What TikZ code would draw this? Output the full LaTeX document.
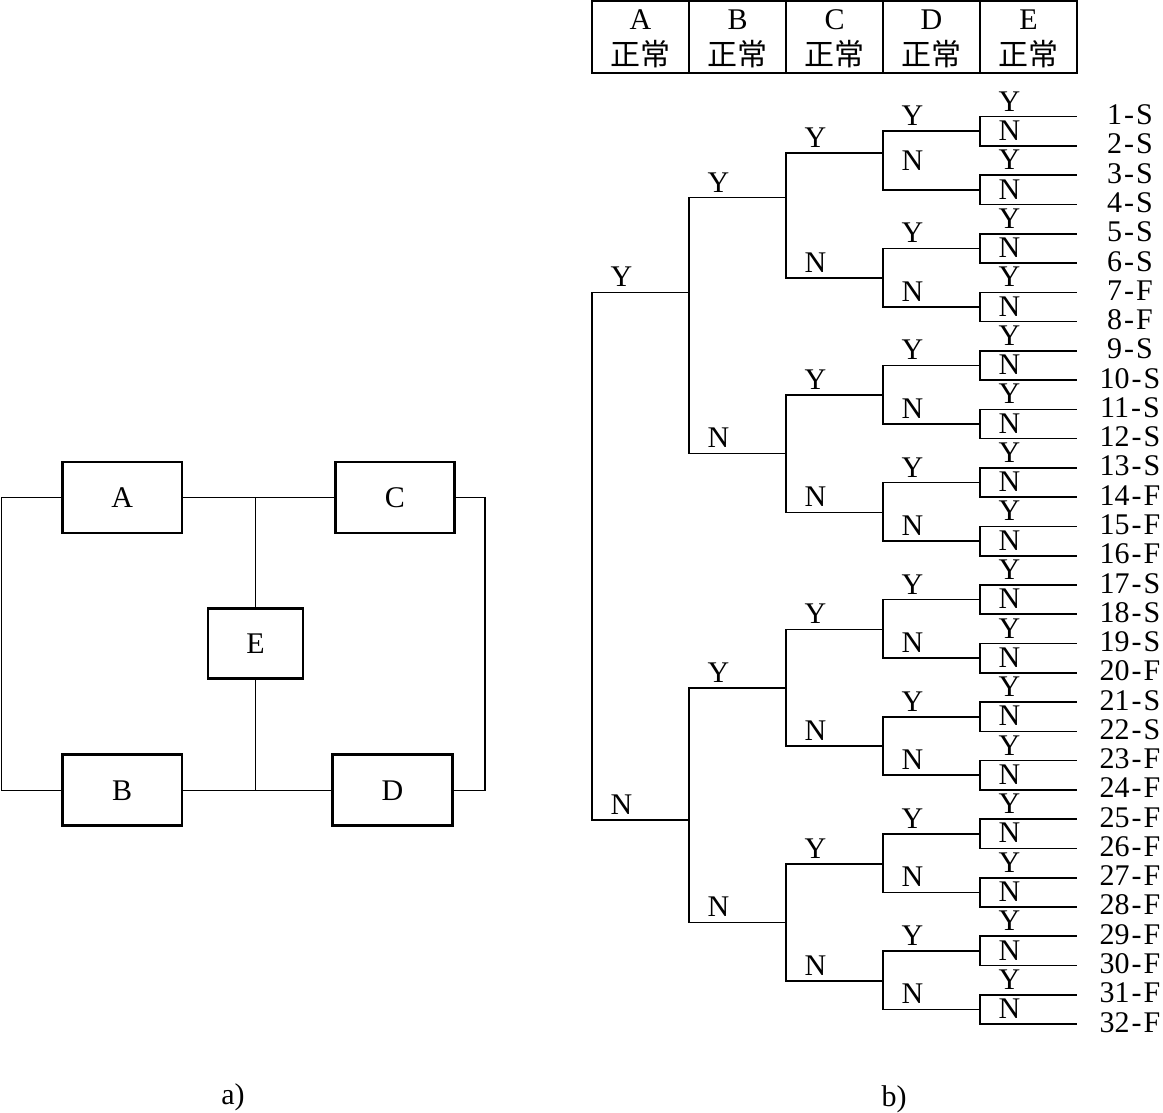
\documentclass[tikz,border=0pt]{standalone}
\usepackage{fontspec}
\setmainfont{Liberation Serif}
\newfontfamily\cjk{Noto Sans CJK SC}
\usetikzlibrary{calc}
\newcommand\treeedge[4]{%
  \draw[wire] (#1) |- (#2);
  \node[lbl] at ($(#1|-#2)+(29.5,#4)$) {#3};
}
\expandafter\def\csname offe2\endcsname{-19}
\begin{document}
\begin{tikzpicture}[x=1pt,y=-1pt,
  font=\fontsize{30}{36}\selectfont,
  wire/.style={line width=1.6pt},
  thinwire/.style={line width=1.1pt},
  blk/.style={draw, line width=2.7pt, minimum width=119.6pt, minimum height=71pt, inner sep=0pt},
  cell/.style={draw, line width=1.5pt, minimum width=97pt, minimum height=72pt, inner sep=0pt},
  lbl/.style={anchor=base, inner sep=0pt}]
\useasboundingbox (0,0) rectangle (1163,1113);

% ---------- a) block diagram ----------
\node[blk] (A) at (122.2,497.5) {A};
\node[blk] (C) at (395,497.5) {C};
\node[blk, minimum width=95pt, minimum height=70pt] (E) at (255.5,643.7) {E};
\node[blk] (B) at (122.2,790.3) {B};
\node[blk] (D) at (392.5,790.3) {D};
\coordinate (Lw) at (1.7,644);
\coordinate (Rw) at (485,644);
\draw[thinwire] (A.west) -| (Lw) |- (B.west);
\draw[thinwire] (C.east) -| (Rw) |- (D.east);
\draw[thinwire] (A.east) -- (C.west);
\draw[thinwire] (B.east) -- (D.west);
\draw[thinwire] (E.north) -- (E.north|-A.east);
\draw[thinwire] (E.south) -- (E.south|-B.east);
\node[lbl] (capa) at (233,1104) {a)};

% ---------- b) header table ----------
\foreach \n/\t [count=\k from 0] in {tA/A,tB/B,tC/C,tD/D,tE/E} {
  \node[cell] (\n) at ({640.5+97*\k},37) {};
  \node[lbl] at ({640.5+97*\k},30) {\t};
  \node[lbl] at ({640.5+97*\k},66) {\cjk 正常};
}

% ---------- b) event tree ----------
\coordinate (a1) at (592,556);
\coordinate (b1) at (689,292.3);
\coordinate (b2) at (689,820);
\foreach \i/\y in {1/197.7,2/453.3,3/687.7,4/922.3}
  \coordinate (c\i) at (786,\y);
\foreach \i/\y in {1/153.3,2/277.7,3/395,4/512.3,5/629.3,6/745.7,7/864,8/980.7}
  \coordinate (d\i) at (883,\y);
\foreach \i in {1,...,16}
  \coordinate (e\i) at (980,{131.3+(\i-1)*58.54});
\foreach \i in {1,...,32}
  \coordinate (f\i) at (1077,{116.7+(\i-1)*29.27});

\foreach \lv/\pl/\n in {b/a/2,c/b/4,d/c/8,e/d/16,f/e/32} {
  \foreach \i in {1,...,\n} {
    \pgfmathtruncatemacro\p{(\i+1)/2}
    \ifodd\i \def\t{Y}\else\def\t{N}\fi
    \ifcsname off\lv\i\endcsname
      \edef\o{\csname off\lv\i\endcsname}%
    \else
      \def\o{-5.5}%
    \fi
    \treeedge{\pl\p}{\lv\i}{\t}{\o}
  }
}

\foreach \i/\r in {1/S,2/S,3/S,4/S,5/S,6/S,7/F,8/F,9/S,10/S,11/S,12/S,13/S,14/F,15/F,16/F,
                   17/S,18/S,19/S,20/F,21/S,22/S,23/F,24/F,25/F,26/F,27/F,28/F,29/F,30/F,31/F,32/F}
  \node[lbl] (r\i) at ($(f\i)+(53,8)$) {\i\kern2pt-\kern2pt\r};

\node[lbl] (capb) at (894,1106) {b)};
\end{tikzpicture}
\end{document}
